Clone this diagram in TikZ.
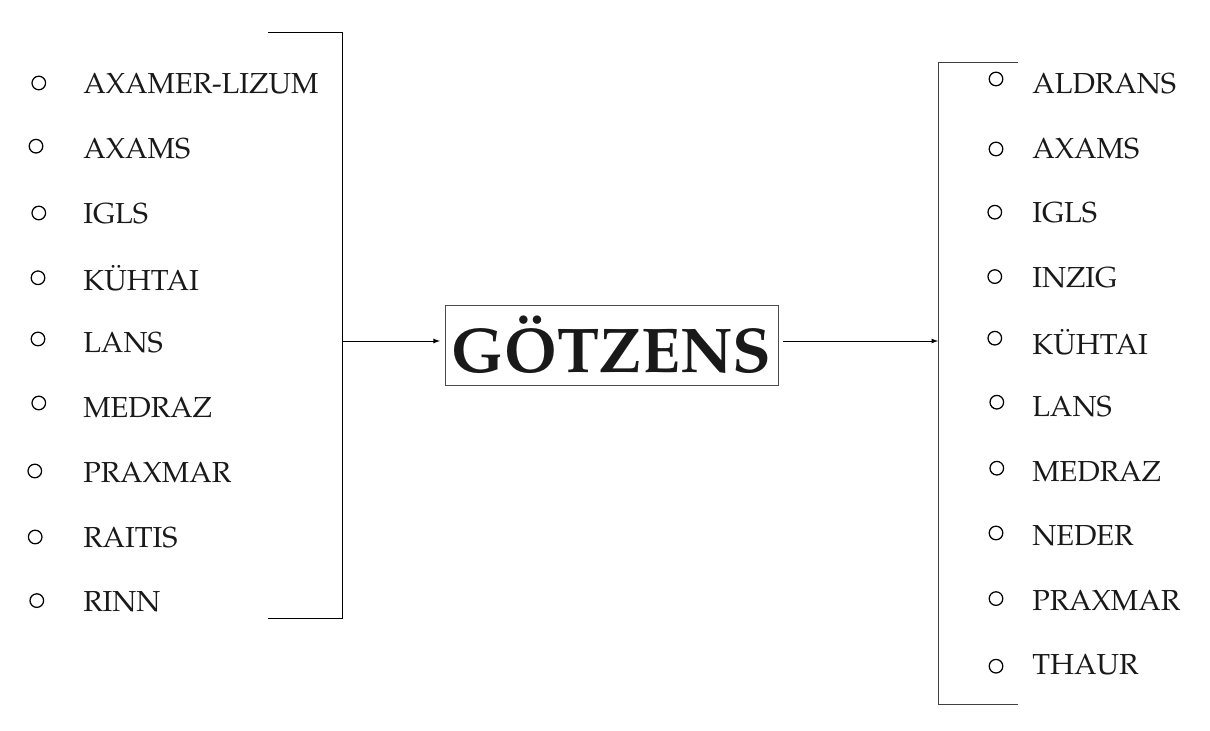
\documentclass[tikz,border=0pt]{standalone}
\usepackage[T1]{fontenc}
\usepackage{mathpazo}
\usetikzlibrary{arrows}
\begin{document}
\begin{tikzpicture}[item/.style={anchor=west,inner sep=0pt,text=black!90,font=\fontsize{20.6}{24}\selectfont},
                    dot/.style={circle,draw,line width=0.9pt,inner sep=0pt,minimum size=0.34cm}]
  \useasboundingbox (0,0) rectangle (30.25,18.275);
  % left list
  \node [dot] (lb1) at (0.97,16.2) {};
  \node [dot] (lb2) at (0.9,14.62) {};
  \node [dot] (lb3) at (0.97,12.95) {};
  \node [dot] (lb4) at (0.95,11.33) {};
  \node [dot] (lb5) at (0.95,9.8) {};
  \node [dot] (lb6) at (0.97,8.2) {};
  \node [dot] (lb7) at (0.87,6.5) {};
  \node [dot] (lb8) at (0.88,4.85) {};
  \node [dot] (lb9) at (0.92,3.26) {};
  \node [item] (l1) at (2.075,16.18) {AXAMER-LIZUM};
  \node [item] (l2) at (2.075,14.56) {AXAMS};
  \node [item] (l3) at (2.075,12.94) {IGLS};
  \node [item] (l4) at (2.075,11.32) {K\"UHTAI};
  \node [item] (l5) at (2.075,9.7) {LANS};
  \node [item] (l6) at (2.075,8.08) {MEDRAZ};
  \node [item] (l7) at (2.075,6.46) {PRAXMAR};
  \node [item] (l8) at (2.075,4.84) {RAITIS};
  \node [item] (l9) at (2.075,3.22) {RINN};
  % left bracket
  \coordinate (ltop) at (6.7,17.475);
  \coordinate (lbot) at (6.7,2.825);
  \coordinate (lout) at (8.55,9.75);
  \draw [line width=0.6pt] (ltop) -- (ltop -| lout) -- (lbot -| lout) -- (lbot);
  % centre
  \node [draw=black!70,line width=0.6pt,inner sep=0pt,minimum width=8.325cm,minimum height=2.0cm,
         font=\fontsize{45}{50}\selectfont\bfseries,text=black!90] (gotz) at (15.29,9.65) {G\"OTZENS};
  \coordinate (rin) at (23.45,9.75);
  \draw [line width=0.6pt,-latex,shorten >=0.12cm] (lout) -- (lout -| gotz.west);
  \draw [line width=0.6pt,-latex] (gotz.east |- rin) ++(0.12,0) -- (rin);
  % right bracket
  \coordinate (rtop) at (25.45,16.725);
  \coordinate (rbot) at (25.45,0.675);
  \draw [line width=0.6pt,black!75] (rtop) -- (rtop -| rin) -- (rbot -| rin) -- (rbot);
  % right list
  \node [dot] (rb1) at (24.9,16.3) {};
  \node [dot] (rb2) at (24.9,14.55) {};
  \node [dot] (rb3) at (24.87,12.97) {};
  \node [dot] (rb4) at (24.87,11.36) {};
  \node [dot] (rb5) at (24.87,9.82) {};
  \node [dot] (rb6) at (24.92,8.22) {};
  \node [dot] (rb7) at (24.92,6.57) {};
  \node [dot] (rb8) at (24.9,4.95) {};
  \node [dot] (rb9) at (24.9,3.31) {};
  \node [dot] (rb10) at (24.9,1.62) {};
  \node [item] (r1) at (25.8,16.18) {ALDRANS};
  \node [item] (r2) at (25.8,14.565) {AXAMS};
  \node [item] (r3) at (25.8,12.95) {IGLS};
  \node [item] (r4) at (25.8,11.335) {INZIG};
  \node [item] (r5) at (25.8,9.72) {K\"UHTAI};
  \node [item] (r6) at (25.8,8.105) {LANS};
  \node [item] (r7) at (25.8,6.49) {MEDRAZ};
  \node [item] (r8) at (25.8,4.875) {NEDER};
  \node [item] (r9) at (25.8,3.26) {PRAXMAR};
  \node [item] (r10) at (25.8,1.645) {THAUR};
\end{tikzpicture}
\end{document}
